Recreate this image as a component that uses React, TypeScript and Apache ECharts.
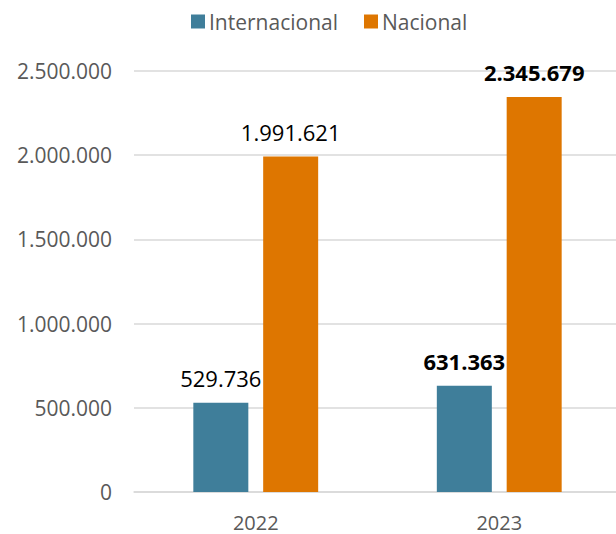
import React, { useEffect, useRef } from "react";
import * as echarts from "echarts";

const categories = ["2022", "2023"];
const seriesNames = ["Internacional", "Nacional"];
const internacional = [529736, 631363];
const nacional = [1991621, 2345679];
const boldLabels = [false, true];
const yTicks = { min: 0, max: 2500000, interval: 500000 };

const colors = ["#3F7E9A", "#DE7600"];
const FONT = "'Open Sans', 'Noto Sans', sans-serif";

const fmt = (v: number) => String(Math.round(v)).replace(/\B(?=(\d{3})+(?!\d))/g, ".");

export default function App() {
  const ref = useRef<HTMLDivElement>(null);
  useEffect(() => {
    document.body.style.margin = "0";
    document.body.style.overflow = "hidden";
    const chart = echarts.init(ref.current!, null, { renderer: "svg" });
    const mkData = (vals: number[]) =>
      vals.map((v, i) => ({
        value: v,
        label: { fontWeight: boldLabels[i] ? "bold" : "normal" },
      }));
    const labelCfg = {
      show: true,
      position: "top",
      distance: 14,
      color: "#000",
      fontSize: 22,
      fontFamily: FONT,
      formatter: (p: any) => fmt(p.value),
    };
    chart.setOption({
      animation: false,
      color: colors,
      legend: {
        top: 6,
        left: 186,
        itemWidth: 14,
        itemHeight: 14,
        itemGap: 26,
        icon: "rect",
        textStyle: { color: "#595959", fontSize: 21, fontFamily: FONT, padding: [0, 0, 0, -1] },
        data: seriesNames,
      },
      grid: { left: 134, right: 0, top: 71, bottom: 42, containLabel: false },
      xAxis: {
        type: "category",
        data: categories,
        axisLine: { show: true, lineStyle: { color: "#d9d9d9", width: 1.5 } },
        axisTick: { show: false },
        axisLabel: { color: "#595959", fontSize: 20, fontFamily: FONT, margin: 20 },
      },
      yAxis: {
        type: "value",
        min: yTicks.min,
        max: yTicks.max,
        interval: yTicks.interval,
        axisLine: { show: false },
        axisTick: { show: false },
        splitLine: { lineStyle: { color: "#d9d9d9", width: 1.5 } },
        axisLabel: {
          color: "#595959",
          fontSize: 21,
          fontFamily: FONT,
          margin: 22,
          formatter: (v: number) => fmt(v),
        },
      },
      series: [
        {
          name: seriesNames[0],
          type: "bar",
          data: mkData(internacional),
          barWidth: 55,
          barGap: "27%",
          label: labelCfg,
        },
        {
          name: seriesNames[1],
          type: "bar",
          data: mkData(nacional),
          barWidth: 55,
          barGap: "27%",
          label: labelCfg,
        },
      ],
    });
    return () => chart.dispose();
  }, []);
  return <div ref={ref} style={{ width: 621, height: 534 }} />;
}
